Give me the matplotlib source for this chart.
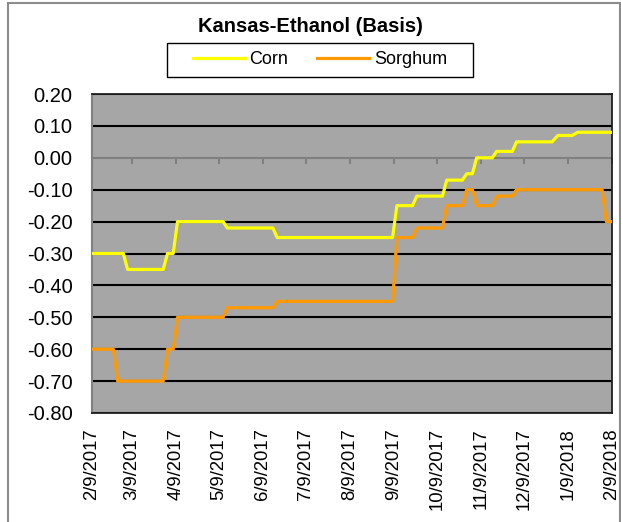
import numpy as np
import pandas as pd
import matplotlib
matplotlib.use('Agg')
import matplotlib.pyplot as plt
from matplotlib.patches import Rectangle
from matplotlib.lines import Line2D

plt.rcParams['font.family'] = ['Liberation Sans', 'DejaVu Sans']

# basis values ($/bu), vertices of the step lines
corn_dates = ['2017-02-09', '2017-03-03', '2017-03-06', '2017-03-31', '2017-04-03',
              '2017-04-07', '2017-04-10', '2017-05-12', '2017-05-15', '2017-06-16',
              '2017-06-19', '2017-09-08', '2017-09-11', '2017-09-22', '2017-09-25',
              '2017-10-13', '2017-10-16', '2017-10-27', '2017-10-30', '2017-11-03',
              '2017-11-06', '2017-11-17', '2017-11-20', '2017-12-01', '2017-12-04',
              '2017-12-29', '2018-01-02', '2018-01-12', '2018-01-16', '2018-02-09']
corn_basis = [-0.30, -0.30, -0.35, -0.35, -0.30,
              -0.30, -0.20, -0.20, -0.22, -0.22,
              -0.25, -0.25, -0.15, -0.15, -0.12,
              -0.12, -0.07, -0.07, -0.05, -0.05,
              0.00, 0.00, 0.02, 0.02, 0.05,
              0.05, 0.07, 0.07, 0.08, 0.08]

sorghum_dates = ['2017-02-09', '2017-02-24', '2017-02-27', '2017-03-31', '2017-04-03',
                 '2017-04-07', '2017-04-10', '2017-05-12', '2017-05-15', '2017-06-16',
                 '2017-06-19', '2017-09-08', '2017-09-11', '2017-09-22', '2017-09-25',
                 '2017-10-13', '2017-10-16', '2017-10-27', '2017-10-30', '2017-11-03',
                 '2017-11-06', '2017-11-17', '2017-11-20', '2017-12-01', '2017-12-04',
                 '2018-02-02', '2018-02-05', '2018-02-09']
sorghum_basis = [-0.60, -0.60, -0.70, -0.70, -0.60,
                 -0.60, -0.50, -0.50, -0.47, -0.47,
                 -0.45, -0.45, -0.25, -0.25, -0.22,
                 -0.22, -0.15, -0.15, -0.10, -0.10,
                 -0.15, -0.15, -0.12, -0.12, -0.10,
                 -0.10, -0.20, -0.20]

tick_labels = ['2/9/2017', '3/9/2017', '4/9/2017', '5/9/2017', '6/9/2017', '7/9/2017',
               '8/9/2017', '9/9/2017', '10/9/2017', '11/9/2017', '12/9/2017',
               '1/9/2018', '2/9/2018']
y_ticks = [-0.80, -0.70, -0.60, -0.50, -0.40, -0.30, -0.20, -0.10, 0.00, 0.10, 0.20]

W, H = 621, 522
tick_dates = pd.to_datetime(tick_labels, format='%m/%d/%Y')

fig = plt.figure(figsize=(W / 100, H / 100), dpi=100)
ax = fig.add_axes([92 / W, 1 - 413 / H, 520 / W, 319 / H])
ax.set_facecolor('#A6A6A6')

# gridlines (zero line is the grey category axis)
for y in y_ticks:
    if abs(y) > 1e-9:
        ax.axhline(y, color='black', lw=1.5, zorder=1)
ax.axhline(0, color='#808080', lw=1.5, zorder=1.5)
ax.plot(tick_dates, np.zeros(len(tick_dates)), ls='none', marker=3,
        color='#808080', ms=4, mew=1.5, zorder=1.5)

ax.plot(pd.to_datetime(corn_dates), corn_basis, color='#FFFF00', lw=2.3, zorder=3)
ax.plot(pd.to_datetime(sorghum_dates), sorghum_basis, color='#FF9900', lw=2.3, zorder=3)

ax.set_xlim(tick_dates[0], tick_dates[-1])
ax.set_ylim(-0.8, 0.2)
ax.set_xticks(tick_dates)
ax.set_xticklabels(tick_labels, rotation=90, fontsize=13.3)
ax.set_yticks(y_ticks)
ax.set_yticklabels([f'{v:.2f}' for v in y_ticks], fontsize=14.5)
ax.tick_params(axis='x', length=0, pad=11)
ax.tick_params(axis='y', length=0, pad=14)

for s in ['top', 'right', 'bottom']:
    ax.spines[s].set_color('#202020')
    ax.spines[s].set_linewidth(1.3)
ax.spines['left'].set_color('#808080')
ax.spines['left'].set_linewidth(1.5)

fig.text(310 / W, 1 - 27 / H, 'Kansas-Ethanol (Basis)', ha='center', va='center',
         fontsize=14.5, fontweight='bold')

handles = [Line2D([], [], color='#FFFF00', lw=2.3),
           Line2D([], [], color='#FF9900', lw=2.3)]
fig.legend(handles, ['Corn', 'Sorghum'], loc='center', bbox_to_anchor=(320 / W, 1 - 60 / H),
           ncol=2, frameon=False, fontsize=13, handlelength=2.85, handletextpad=0.28,
           columnspacing=1.6, borderpad=0.2)
fig.add_artist(Rectangle((167 / W, 1 - 77.3 / H), 306 / W, 34.6 / H, transform=fig.transFigure,
                         fill=False, ec='black', lw=1))

# chart area border
fig.add_artist(Rectangle((7.5 / W, -0.02), 612 / W, 1 - 3 / H + 0.02, transform=fig.transFigure,
                         fill=False, ec='#8c8c8c', lw=1.5))

fig.savefig('out.png', dpi=100)
